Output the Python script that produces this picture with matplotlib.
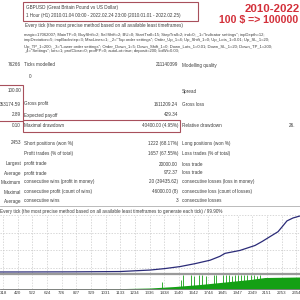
import matplotlib
matplotlib.use("Agg")
import matplotlib.pyplot as plt
from matplotlib.patches import Rectangle

# ---------------- data ----------------
trade_ticks = [318, 420, 522, 624, 726, 827, 929, 1031, 1133, 1234, 1336, 1438,
               1540, 1642, 1744, 1845, 1947, 2049, 2151, 2253, 2354]

eq_trades = [0, 400, 800, 1130, 1339, 1443, 1547, 1651, 1756, 1825, 1860, 1964,
             2068, 2117, 2172, 2228, 2262, 2290, 2332, 2380]
eq_balance = [100, 700, 3000, 9000, 37000, 65000, 102000, 157000, 222000, 296000,
              351000, 406000, 499000, 573000, 665000, 758000, 868000, 961000,
              1016000, 1053000]

lot_trades = [297, 1100, 1339, 1512, 1686, 1860, 2033, 2137, 2380]
lot_base = [0, 0.6, 2, 5, 9, 14, 19, 23, 24]
spike_trades = [1422, 1554, 1568, 1624, 1644, 1679, 1700, 1728, 1783, 1797, 1846,
                1867, 1887, 1908, 1929, 1950, 1971, 1992, 2012, 2040, 2061, 2082, 2103]
spike_lots = [14, 18, 28, 28, 27, 28, 28, 26, 28, 28, 28, 28, 28, 27, 28, 28, 28,
              28, 28, 28, 28, 27, 28]

# report rows: (y, left value, left label, right value, right label)
rows = [
    (65, "76266", "Ticks modelled", "211140399", "Modelling quality"),
    (91, "100.00", "", "", "Spread"),
    (104, "053174.59", "Gross profit", "1611209.24", "Gross loss"),
    (115, "2.89", "Expected payoff", "429.34", ""),
    (126, "0.10", "Maximal drawdown", "40400.00 (4.95%)", "Relative drawdown"),
    (143, "2453", "Short positions (won %)", "1222 (68.17%)", "Long positions (won %)"),
    (153, "", "Profit trades (% of total)", "1657 (67.55%)", "Loss trades (% of total)"),
    (164, "Largest", "profit trade", "20000.00", "loss trade"),
    (173, "Average", "profit trade", "972.37", "loss trade"),
    (182, "Maximum", "consecutive wins (profit in money)", "20 (39435.62)", "consecutive losses (loss in money)"),
    (192, "Maximal", "consecutive profit (count of wins)", "46000.00 (8)", "consecutive loss (count of losses)"),
    (201, "Average", "consecutive wins", "3", "consecutive losses"),
]

magic_lines = [
    (35, 'magic=17062007; MainTF=0; BuyShift=2; SellShift=2; BU=0; StartTrall=15; StepTrall=2; ind=0; _1="Indicator settings"; inpDepth=12;'),
    (40, 'impDeviation=5; impBackstep=3; MaxLines=1; _2="Top order settings"; Order_Up_1=4; Up_Shift_1=0; Up_Lots_1=0.01; Up_SL_1=20;'),
    (47, 'Up_TP_1=200; _3="Lower order settings"; Order_Down_1=5; Down_Shift_1=0; Down_Lots_1=0.01; Down_SL_1=20; Down_TP_1=200;'),
    (51, '_4="Settings"; lots=1; profClose=0; profPP=0; autoLot=true; deposit=200; lotWi=0.03;'),
]

# ---------------- figure ----------------
W = H = 300
fig = plt.figure(figsize=(3, 3), dpi=100)
fig.patch.set_facecolor("white")
FONT = ["Liberation Sans", "DejaVu Sans"]
TC = "#3c3c3c"
FS = 3.3


def px(x, y):
    return x / W, 1 - y / H


def t(x, y, s, ha="left", fs=FS, color=TC, **kw):
    fig.text(*px(x, y), s, ha=ha, va="center", fontsize=fs, color=color,
             family=FONT, **kw)


def box(x0, y0, x1, y1, color="#a8505c", lw=0.8):
    fig.add_artist(Rectangle(px(x0, y1), (x1 - x0) / W, (y1 - y0) / H,
                             transform=fig.transFigure, fill=False,
                             edgecolor=color, linewidth=lw))


# header
box(23, 2, 198, 21)
t(26, 7, "GBPUSD (Great Britain Pound vs US Dollar)")
t(26, 16, "1 Hour (H1) 2010.01.04 00:00 - 2022.02.24 23:00 (2010.01.01 - 2022.02.25)")
t(25, 26, "Every tick (the most precise method based on all available least timeframes)")
for y, s in magic_lines:
    t(24, y, s, fs=3.0)

RED = "#d3303a"
t(272, 8.5, "2010-2022", ha="center", fs=8.2, color=RED, weight="bold")
t(298, 20.5, "100 $ => 100000", ha="right", fs=7.6, color=RED, weight="bold")

# report table
for y, lv, ll, rv, rl in rows:
    if lv:
        t(21, y, lv, ha="right")
    if ll:
        t(24, y, ll)
    if rv:
        t(178, y, rv, ha="right")
    if rl:
        t(182, y, rl)
t(31, 77, "0", ha="right")
t(295, 126, "26.", ha="right")

box(-2, 85, 22.5, 121)
box(23, 120, 180, 132)

# chart header
fig.add_artist(plt.Line2D([0, 1], [1 - 206 / H] * 2, transform=fig.transFigure,
                          color="#b0b0b0", lw=0.6))
t(0, 211.5, "Every tick (the most precise method based on all available least timeframes to generate each tick) / 99.90%")

# ---------------- equity chart ----------------
XMIN, XMAX = 297.2, 2380.5
k = 18477.0
ax = fig.add_axes([0, 1 - 273 / H, 1, 58 / H])
ax.set_xlim(XMIN, XMAX)
ax.set_ylim(100 - 1 * k, 100 + 58 * k)
ax.plot(eq_trades, eq_balance, color="#2b2b78", lw=0.9, clip_on=False,
        solid_joinstyle="round")
ax.set_xticks(trade_ticks)
ax.set_yticks([73900, 406500, 739100, 1071700])
ax.grid(True, color="#c8c8c8", linestyle=(0, (2, 2)), lw=0.5)
ax.tick_params(length=0, labelbottom=False, labelleft=False)
for s in ax.spines.values():
    s.set_visible(False)

# ---------------- lots chart ----------------
av = fig.add_axes([0, 1 - 289 / H, 1, 15 / H])
av.set_xlim(XMIN, XMAX)
av.set_ylim(0, 30)
av.fill_between(lot_trades, 0, lot_base, color="#14a014", lw=0)
av.vlines(spike_trades, 0, spike_lots, color="#14a014", lw=0.6)
av.set_xticks(trade_ticks)
av.set_xticklabels([str(v) for v in trade_ticks], fontsize=3.2, color=TC,
                   family=FONT)
av.set_yticks([])
av.grid(True, axis="x", color="#d0d0d0", linestyle=(0, (2, 2)), lw=0.5)
av.set_axisbelow(True)
av.tick_params(length=0, pad=1.2)
for name, s in av.spines.items():
    s.set_visible(False)
av.spines["top"].set_visible(True)
av.spines["top"].set_color("#9a9a9a")
av.spines["top"].set_linewidth(1.6)
av.spines["bottom"].set_visible(True)
av.spines["bottom"].set_color("#707070")
av.spines["bottom"].set_linewidth(0.6)

fig.savefig("out.png", dpi=100, facecolor="white")
